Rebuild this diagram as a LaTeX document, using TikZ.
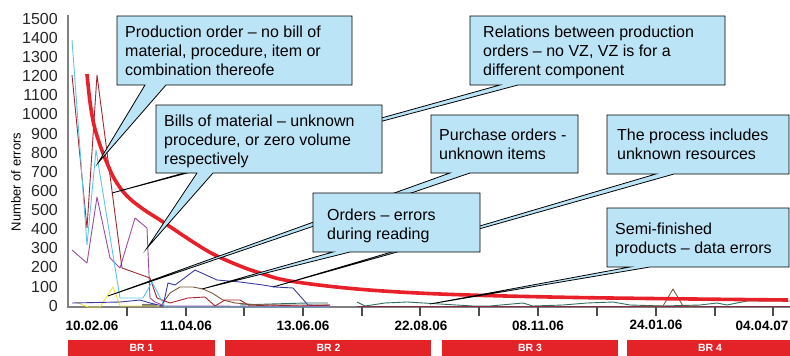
\documentclass[tikz,border=0pt]{standalone}
\usepackage{fontspec}
\setmainfont{Liberation Sans}
\definecolor{calloutblue}{RGB}{188,228,247}
\definecolor{trendred}{RGB}{232,32,42}
\definecolor{barred}{RGB}{228,35,41}
\definecolor{scyan}{RGB}{92,197,238}
\definecolor{sdred}{RGB}{163,39,46}
\definecolor{spurple}{RGB}{157,76,163}
\definecolor{syellow}{RGB}{242,227,58}
\definecolor{snavy}{RGB}{59,59,155}
\definecolor{sbrown}{RGB}{123,90,58}
\definecolor{steal}{RGB}{47,111,98}
\definecolor{axisgray}{RGB}{128,128,128}
\newcommand\drawcallout[7]{\draw[callout] (#1,#2) -- (#3,#2) -- (#3,#4) -- (#6,#4) -- #7 -- (#5,#4) -- (#1,#4) -- cycle;}
\begin{document}
\begin{tikzpicture}[x=1pt,y=-1pt,
  callout/.style={draw=black, line width=0.8pt, fill=calloutblue, line join=miter, miter limit=20},
  ctext/.style={align=left, font=\fontsize{16}{18.7}\selectfont, anchor=north west, inner sep=0pt},
  series/.style={line width=0.9pt, line join=round},
  ylab/.style={anchor=east, inner sep=0pt, font=\fontsize{16}{16}\selectfont, text=black!85},
  xlab/.style={anchor=center, inner sep=0pt, font=\fontsize{13.5}{13.5}\selectfont\bfseries},
  barlab/.style={anchor=center, inner sep=0pt, text=white, font=\fontsize{10.5}{10.5}\selectfont\bfseries},
  tickline/.style={line width=1.3pt, draw=black!70}]
\useasboundingbox (0,0) rectangle (790,356);

% axes
\coordinate (ytop) at (68,15);
\coordinate (origin) at (68,307);
\coordinate (xend) at (790,307);
\draw[line width=2pt, axisgray] (ytop) -- (origin) -- (xend);
\foreach \t in {127,186,244,303,362,420,479,538,597,656,715,773}
  \draw[tickline] (\t,307) -- (\t,316);

% y labels
\foreach \v in {0,100,...,1500}
  \node[ylab] (y\v) at (58,{305.7-\v*0.19133}) {\v};
\node[rotate=90, inner sep=0pt, font=\fontsize{13}{13}\selectfont] (ytitle) at (16,182) {Number of errors};

% x labels
\node[xlab] (d1) at (92,326) {10.02.06};
\node[xlab] (d2) at (186,326) {11.04.06};
\node[xlab] (d3) at (303,326) {13.06.06};
\node[xlab] (d4) at (421,326) {22.08.06};
\node[xlab] (d5) at (538,326) {08.11.06};
\node[xlab] (d6) at (656,325) {24.01.06};
\node[xlab] (d7) at (762,326) {04.04.07};

% bars
\fill[barred] (68,340) rectangle (215,356);
\fill[barred] (225,340) rectangle (431,356);
\fill[barred] (442,340) rectangle (618,356);
\fill[barred] (627,340) rectangle (790,356);
\node[barlab] (br1) at (141.5,348) {BR 1};
\node[barlab] (br2) at (328.5,348) {BR 2};
\node[barlab] (br3) at (530,348) {BR 3};
\node[barlab] (br4) at (710,348) {BR 4};

% series
\draw[series, steal] (240,305) -- (270,304) -- (307,303) -- (328,303);
\draw[series, steal] (357,302) -- (365,306) -- (385,303) -- (407,302) -- (440,304) -- (473,306) -- (490,306) -- (523,303) -- (533,306) -- (563,305) -- (587,303) -- (613,302) -- (630,305) -- (663,306) -- (700,305) -- (717,303) -- (727,305) -- (747,301) -- (790,301);
\draw[series, sdred!80!snavy] (357,306.5) -- (790,306.5);
\draw[series, sbrown] (640,306) -- (663,306) -- (673,289) -- (683,306) -- (700,306);
\draw[line width=2.2pt, axisgray!90!black] (142,305.5) -- (157,305.5);
\draw[series, syellow] (78,303) -- (88,307) -- (100,307) -- (113,287) -- (120,306) -- (160,306);
\draw[series, sbrown] (160,307) -- (170,293) -- (180,287) -- (193,287) -- (203,289) -- (212,293) -- (223,300) -- (235,303) -- (260,305) -- (330,305);
\draw[series, snavy] (72,303) -- (120,302) -- (140,300) -- (150,303) -- (163,306) -- (168,283) -- (175,285) -- (195,270) -- (217,280) -- (240,282) -- (263,285) -- (275,287) -- (293,288) -- (308,305) -- (330,306);
\draw[series, spurple] (72,250) -- (87,263) -- (97,197) -- (110,258) -- (120,268) -- (135,218) -- (147,228) -- (150,298) -- (155,302) -- (165,306) -- (330,306.5);
\draw[series, sdred] (72,75) -- (87,228) -- (97,75) -- (122,268) -- (150,278) -- (157,298) -- (170,303) -- (188,298) -- (205,297) -- (215,306) -- (225,300) -- (240,300) -- (250,306) -- (270,305) -- (300,306) -- (330,305);
\draw[series, scyan] (72,40) -- (87,245) -- (96,150) -- (120,298) -- (143,298) -- (152,282) -- (165,307) -- (330,307);

% trend
\draw[line width=3.6pt, trendred] plot[smooth, tension=0.6] coordinates {(87,74) (90,102) (94,125) (100,145) (107,163) (115,180) (127,196) (143,209) (160,220) (190,240) (213,254) (240,266) (260,273) (290,281) (357,289) (440,294) (550,297) (650,298.5) (788,300)};

% pointer tips
\coordinate (tipProd) at (98,163);
\coordinate (tipBills) at (147,248);
\coordinate (tipRel) at (112,193);
\coordinate (tipPurch) at (108,296);
\coordinate (tipOrders) at (202,289);
\coordinate (tipProc) at (273,287);
\coordinate (tipSemi) at (430,304);

% callouts (back ones first)
\drawcallout{470}{16}{725}{85}{500}{518}{(tipRel)}
\drawcallout{431}{115}{578}{173}{450}{470}{(tipPurch)}
\drawcallout{607}{115}{789}{174}{656}{674}{(tipProc)}
\drawcallout{607}{208}{789}{267}{630}{650}{(tipSemi)}
\drawcallout{117}{16}{352}{85}{145}{166}{(tipProd)}
\drawcallout{156}{105}{382}{173}{197}{213}{(tipBills)}
\drawcallout{313}{193}{480}{252}{333}{350}{(tipOrders)}

% callout texts
\node[ctext] (prod) at (125,26) {Production order -- no bill of\\material, procedure, item or\\combination thereofe};
\node[ctext] (bills) at (164,115) {Bills of material -- unknown\\procedure, or zero volume\\respectively};
\node[ctext] (rel) at (483,26) {Relations between production\\orders -- no VZ, VZ is for a\\different component};
\node[ctext] (purch) at (439,129) {Purchase orders -\\unknown items};
\node[ctext] (proc) at (617,129) {The process includes\\unknown resources};
\node[ctext] (orders) at (327,209) {Orders -- errors\\during reading};
\node[ctext] (semi) at (615,223) {Semi-finished\\products -- data errors};
\end{tikzpicture}
\end{document}
